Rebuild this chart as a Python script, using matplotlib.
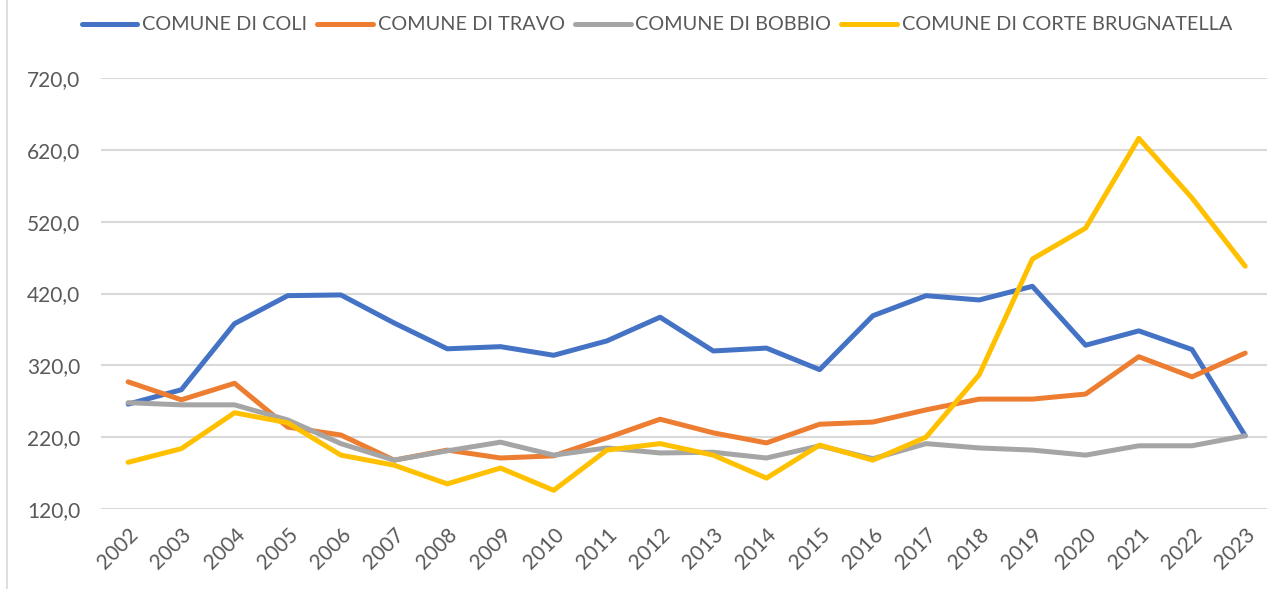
import matplotlib.pyplot as plt
from matplotlib.lines import Line2D
from matplotlib.ticker import FuncFormatter

years = [str(y) for y in range(2002, 2024)]

coli = [266, 286, 378, 417, 418, 379, 343, 346, 334, 354, 387, 340,
        344, 314, 389, 417, 411, 430, 348, 368, 342, 222]
travo = [297, 272, 295, 234, 223, 188, 202, 191, 194, 219, 245, 226,
         212, 238, 241, 258, 273, 273, 280, 332, 304, 337]
bobbio = [268, 265, 265, 244, 211, 188, 201, 213, 195, 205, 198, 199,
          191, 208, 190, 211, 205, 202, 195, 208, 208, 222]
corte = [185, 204, 254, 240, 195, 181, 155, 177, 146, 202, 211, 195,
         163, 209, 188, 220, 307, 468, 511, 636, 553, 458]

series = [
    ("COMUNE DI COLI", coli, "#4472C4"),
    ("COMUNE DI TRAVO", travo, "#ED7D31"),
    ("COMUNE DI BOBBIO", bobbio, "#A5A5A5"),
    ("COMUNE DI CORTE BRUGNATELLA", corte, "#FFC000"),
]

text_color = "#595959"
plt.rcParams['font.family'] = ['Lato', 'DejaVu Sans']

W, H = 1267, 589
fig = plt.figure(figsize=(W / 100, H / 100), dpi=100)
# plot area: left 101 px, top 78 px, bottom 509 px
ax = fig.add_axes([101 / W, (H - 509) / H, (W - 101) / W, (509 - 78) / H])

x = list(range(len(years)))
for name, vals, col in series:
    ax.plot(x, vals, color=col, linewidth=3.6, label=name,
            solid_capstyle='round', solid_joinstyle='round')

ax.set_ylim(120, 720)
ax.set_yticks(range(120, 721, 100))
ax.yaxis.set_major_formatter(FuncFormatter(lambda v, p: f"{v:.1f}".replace('.', ',')))
ax.set_xlim(-0.51, 21.41)
ax.set_xticks(x)
ax.set_xticklabels(years, rotation=45, ha='right', rotation_mode='anchor')

ax.grid(axis='y', color='#D9D9D9', linewidth=1.5)
ax.set_axisbelow(True)
for s in ax.spines.values():
    s.set_visible(False)
ax.tick_params(axis='both', length=0, colors=text_color, labelsize=15)
ax.tick_params(axis='y', pad=15)
ax.tick_params(axis='x', pad=11)

ax.legend(loc='center', bbox_to_anchor=(657 / W, 1 - 25 / H), bbox_transform=fig.transFigure,
          ncol=4, frameon=False, fontsize=14.3, labelcolor=text_color,
          handlelength=2.8, handletextpad=0.25, columnspacing=0.5)

# thin frame line on the left side of the chart area
fig.add_artist(Line2D([7 / W, 7 / W], [0, 1], color='#D9D9D9', linewidth=1.2))

fig.savefig("out.png", dpi=100)
